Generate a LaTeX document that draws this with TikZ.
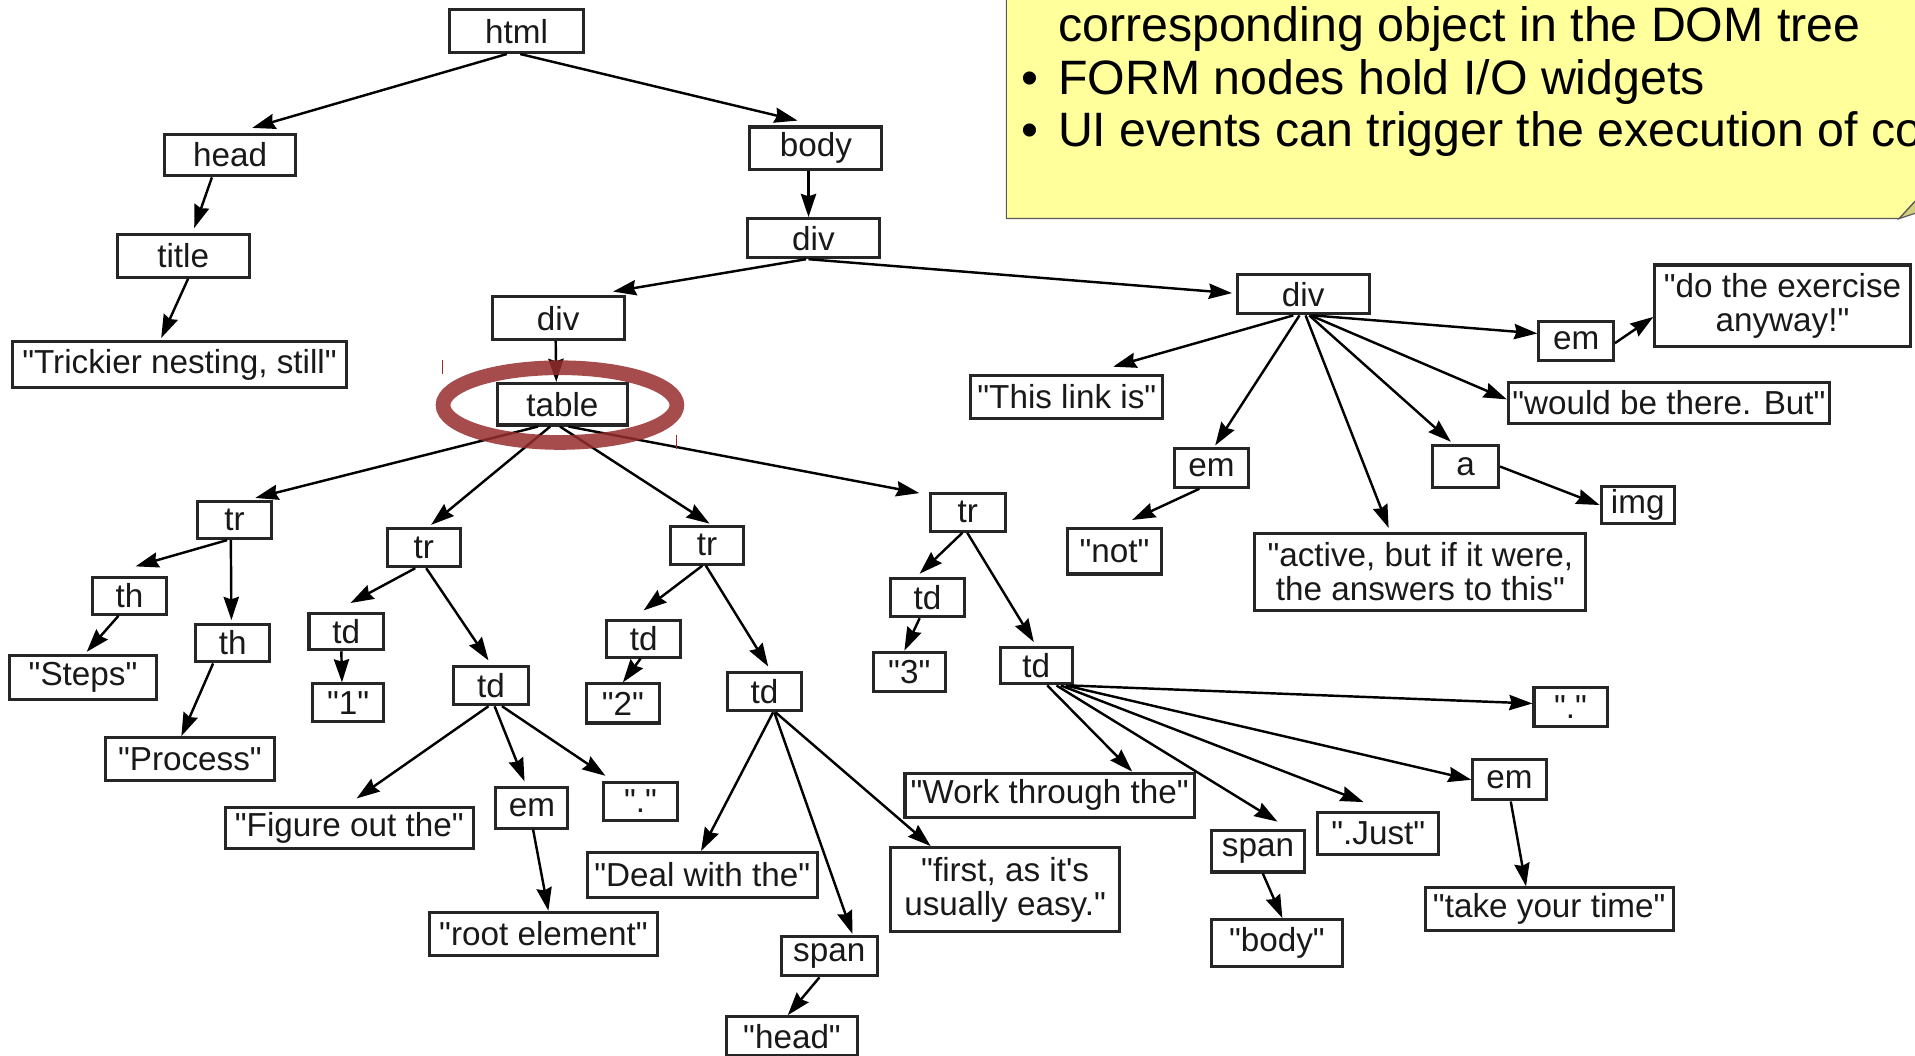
\documentclass[tikz,border=0pt]{standalone}
\usepackage{fontspec}
\setmainfont{Liberation Sans}[Ligatures=TeXOff]
\usetikzlibrary{arrows.meta,calc}
\newlength\pu
\setlength\pu{0.02cm}
\definecolor{notefill}{RGB}{255,255,155}
\definecolor{foldfill}{RGB}{212,205,128}
\definecolor{ringred}{RGB}{150,45,45}
\tikzset{
  tag/.style={draw=black!85, line width=0.05cm, fill=white, inner sep=0pt,
    minimum height=32\pu, align=center, text=black!90,
    font=\fontsize{15.5pt}{16pt}\selectfont},
  edge/.style={line width=0.04cm, black,
    -{Stealth[length=0.38cm,width=0.25cm,inset=0.04cm]}},
  notetext/.style={anchor=base west, inner sep=0pt,
    font=\fontsize{22.5pt}{26pt}\selectfont},
  ring/.style={draw=ringred, line width=12\pu, opacity=0.85},
  tick/.style={draw=ringred, line width=0.02cm},
}
\begin{document}
\begin{tikzpicture}[x=0.02cm, y=-0.02cm]
\useasboundingbox (0,0) rectangle (1568,864);
\clip (0,0) rectangle (1568,864);

% ---- yellow note with folded corner ----
\fill[notefill] (824,-20) -- (824,179) -- (1555,179) -- (1585,146.5) -- (1600,146.5) -- (1600,-20) -- cycle;
\draw[black!65, line width=0.02cm] (824,-20) -- (824,179) -- (1555,179) -- (1585,146.5);
\filldraw[fill=foldfill, draw=black!65, line width=0.02cm] (1555,179) -- (1585,146.5) -- (1585,169) -- cycle;
\node[notetext] (n1) at (866,34) {corresponding object in the DOM tree};
\node[notetext] (b2) at (836,77) {•};
\node[notetext] (n2) at (866,77) {FORM nodes hold I/O widgets};
\node[notetext] (b3) at (836,120) {•};
\node[notetext] (n3) at (866,120) {UI events can trigger the execution of co};

% ---- tree nodes ----
\node[tag, minimum width=110\pu, minimum height=35\pu] (html) at (423,25.5) {html};
\node[tag, minimum width=107\pu, minimum height=34\pu] (head) at (188.5,127) {head};
\node[tag, minimum width=108\pu, minimum height=35\pu] (body) at (668,121.5) {body};
\node[tag, minimum width=108\pu, minimum height=35\pu] (title) at (150,209.5) {title};
\node[tag, minimum width=108\pu] (div1) at (666,195) {div};
\node[tag, minimum width=274\pu, minimum height=37\pu] (trickier) at (147,298.5) {"Trickier nesting, still"};
\node[tag, minimum width=108\pu, minimum height=35\pu] (divL) at (457,260.5) {div};
\node[tag, minimum width=108\pu] (divR) at (1067,241) {div};
\node[tag, minimum width=107\pu, minimum height=34\pu] (table) at (460.5,331) {table};

\node[tag, minimum width=60\pu, minimum height=30\pu] (tr1) at (192,426) {tr};
\node[tag, minimum width=60\pu, minimum height=31\pu] (tr2) at (347,448.5) {tr};
\node[tag, minimum width=60\pu, minimum height=31\pu] (tr3) at (579,446.5) {tr};
\node[tag, minimum width=61\pu, minimum height=31\pu] (tr4) at (792.5,419.5) {tr};

\node[tag, minimum width=60\pu, minimum height=30\pu] (th1) at (106,488) {th};
\node[tag, minimum width=61\pu, minimum height=31\pu] (th2) at (190.5,526.5) {th};
\node[tag, minimum width=120\pu, minimum height=36\pu] (steps) at (68,555) {"Steps"};
\node[tag, minimum width=139\pu, minimum height=35\pu] (process) at (155.5,621.5) {"Process"};

\node[tag, minimum width=61\pu, minimum height=30\pu] (td2a) at (283.5,517) {td};
\node[tag, minimum width=58\pu, minimum height=31\pu] (one) at (285,575.5) {"1"};
\node[tag, minimum width=62\pu, minimum height=31\pu] (td2b) at (402,561.5) {td};
\node[tag, minimum width=203\pu, minimum height=34\pu] (figure) at (286,678) {"Figure out the"};
\node[tag, minimum width=59\pu, minimum height=33\pu] (em1) at (435.5,661.5) {em};
\node[tag, minimum width=61\pu, minimum height=31\pu] (dot1) at (524.5,656) {"."};
\node[tag, minimum width=186\pu, minimum height=35\pu] (root) at (445,764.5) {"root element"};

\node[tag, minimum width=61\pu, minimum height=30\pu] (td3a) at (527,523) {td};
\node[tag, minimum width=60\pu, minimum height=32\pu] (two) at (510,576) {"2"};
\node[tag, minimum width=60\pu, minimum height=31\pu] (td3b) at (626,566.5) {td};
\node[tag, minimum width=188\pu, minimum height=37\pu] (deal) at (575,716.5) {"Deal with the"};
\node[tag, minimum width=79\pu] (span1) at (679,783) {span};
\node[tag, minimum width=107\pu] (head2) at (648.5,848.5) {"head"};
\node[tag, minimum width=188\pu, minimum height=69\pu] (first) at (823,728.5) {"first, as it's\\usually easy."};

\node[tag, minimum width=61\pu, minimum height=31\pu] (td4a) at (759.5,489.5) {td};
\node[tag, minimum width=59\pu] (three) at (744.5,550) {"3"};
\node[tag, minimum width=59\pu, minimum height=30\pu] (td4b) at (848.5,545) {td};
\node[tag, minimum width=60\pu] (dot2) at (1286,579) {"."};
\node[tag, minimum width=237\pu, minimum height=36\pu] (work) at (859.5,651) {"Work through the"};
\node[tag, minimum width=76\pu, minimum height=34\pu] (span2) at (1030,697) {span};
\node[tag, minimum width=99\pu, minimum height=35\pu] (just) at (1128.5,682.5) {".Just"};
\node[tag, minimum width=60\pu, minimum height=33\pu] (em2) at (1236,638.5) {em};
\node[tag, minimum width=107\pu, minimum height=38\pu] (body2) at (1045.5,772) {"body"};
\node[tag, minimum width=203\pu, minimum height=35\pu] (take) at (1268.5,744.5) {"take your time"};

\node[tag, minimum width=157\pu, minimum height=35\pu] (thislink) at (873.5,325) {"This link is"};
\node[tag, minimum width=60\pu] (em3) at (992,383) {em};
\node[tag, minimum width=77\pu, minimum height=37\pu] (notn) at (912.5,451.5) {"not"};
\node[tag, minimum width=271\pu, minimum height=63\pu] (active) at (1163,468) {"active, but if it were,\\the answers to this"};
\node[tag, minimum width=54\pu, minimum height=34\pu] (anode) at (1200,382) {a};
\node[tag, minimum width=60\pu, minimum height=31\pu] (img) at (1341,413.5) {img};
\node[tag, minimum width=263\pu, minimum height=34\pu] (would) at (1366.5,330) {"would be there. But"};
\node[tag, minimum width=61\pu] (em4) at (1290.5,279) {em};
\node[tag, minimum width=209\pu, minimum height=67\pu] (doex) at (1459.5,250.5) {"do the exercise\\anyway!"};

% ---- connectors ----
\draw[edge] ($(html.south)+(-8,0)$) -- ($(head.north)+(18,-4)$);
\draw[edge] ($(html.south)+(3,0)$) -- ($(body.north)+(-15,-4)$);
\draw[edge] ($(head.south)+(-15,0)$) -- ($(title.north)+(9,-4)$);
\draw[edge] ($(title.south)+(4,0)$) -- ($(trickier.north)+(-15,-2)$);
\draw[edge] ($(body.south)+(-6,0)$) -- ($(div1.north)+(-4,0)$);
\draw[edge] ($(div1.south)+(-6,0)$) -- ($(divL.north)+(45,-3)$);
\draw[edge] ($(div1.south)+(-4,0)$) -- ($(divR.west)+(-3,-1)$);
\draw[edge] ($(divL.south)+(-2,0)$) -- ($(table.north)+(-5,0)$);

\draw[edge] ($(table.south)+(-20,0)$) -- ($(tr1.north)+(17,-2)$);
\draw[edge] ($(table.south)+(-10,0)$) -- ($(tr2.north)+(6,-2)$);
\draw[edge] ($(table.south)+(-2,0)$) -- ($(tr3.north)+(2,-1)$);
\draw[edge] ($(table.south)+(5,0)$) -- ($(tr4.north west)+(-8,1)$);

\draw[edge] ($(tr1.south)+(-6,0)$) -- ($(th1.north)+(5,-8)$);
\draw[edge] ($(tr1.south)+(-3,0)$) -- ($(th2.north)+(-1,-2)$);
\draw[edge] ($(th1.south)+(-9,0)$) -- ($(steps.north)+(3,-2)$);
\draw[edge] ($(th2.south)+(-16,0)$) -- ($(process.north)+(-7,0)$);

\draw[edge] ($(tr2.south)+(-7,0)$) -- ($(td2a.north)+(3.5,-7)$);
\draw[edge] ($(tr2.south)+(2,0)$) -- ($(td2b.north)+(-2,-4)$);
\draw[edge] ($(td2a.south)+(-4,0)$) -- ($(one.north)+(-5,0)$);
\draw[edge] ($(td2b.south)+(-2,0)$) -- ($(figure.north)+(6,-6)$);
\draw[edge] ($(td2b.south)+(3,0)$) -- ($(em1.north)+(-6,-4)$);
\draw[edge] ($(td2b.south)+(9,0)$) -- ($(dot1.north west)+(3,-4)$);
\draw[edge] ($(em1.south)+(1,0)$) -- ($(root.north)+(4,0)$);

\draw[edge] ($(tr3.south)+(-4,0)$) -- ($(td3a.north)+(0,-7)$);
\draw[edge] ($(tr3.south)+(-1,0)$) -- ($(td3b.north)+(3,-4)$);
\draw[edge] ($(td3a.south)+(-2.5,0)$) -- (two.north);
\draw[edge] ($(td3b.south)+(7,0)$) -- ($(deal.north)+(-1,0)$);
\draw[edge] ($(td3b.south)+(8,0)$) -- ($(span1.north)+(19,-1)$);
\draw[edge] ($(td3b.south)+(9,0)$) -- ($(first.north)+(-61,0)$);
\draw[edge] ($(span1.south)+(-8,0)$) -- ($(head2.north)+(-3.5,0)$);

\draw[edge] ($(tr4.south)+(-4.5,0)$) -- ($(td4a.north)+(-6.5,-3)$);
\draw[edge] ($(tr4.south)+(-0.5,0)$) -- ($(td4b.north)+(-2,-3)$);
\draw[edge] ($(td4a.south)+(-6.5,0)$) -- ($(three.north)+(-4,0)$);
\draw[edge] ($(td4b.south)+(9,0)$) -- ($(work.north)+(67.5,0)$);
\draw[edge] ($(td4b.south)+(16.5,0)$) -- ($(span2.north)+(16,-6)$);
\draw[edge] ($(td4b.south)+(20,0)$) -- ($(just.north)+(-12,-7)$);
\draw[edge] ($(td4b.south)+(24,0)$) -- (em2.west);
\draw[edge] ($(td4b.south)+(27.5,0)$) -- ($(dot2.west)+(0,-3)$);
\draw[edge] ($(span2.south)+(4,0)$) -- ($(body2.north)+(4.5,0)$);
\draw[edge] ($(em2.south)+(1,0)$) -- ($(take.north)+(-19,0)$);

\draw[edge] ($(divR.south)+(-8,0)$) -- ($(thislink.north)+(38,-6)$);
\draw[edge] ($(divR.south)+(-3,0)$) -- ($(em3.north)+(3,-1)$);
\draw[edge] ($(divR.south)+(2,0)$) -- ($(active.north)+(-26,-3)$);
\draw[edge] ($(divR.south)+(5,0)$) -- ($(anode.north)+(-12,-2)$);
\draw[edge] ($(divR.south)+(6,0)$) -- ($(would.west)+(0,-3)$);
\draw[edge] ($(divR.south)+(8,0)$) -- ($(em4.west)+(0,-6)$);
\draw[edge] ($(em4.east)+(0,2)$) -- ($(doex.west)+(0,9)$);
\draw[edge] ($(em3.south)+(-10,0)$) -- ($(notn.north)+(14.5,-6)$);
\draw[edge] (anode.east) -- (img.west);

% ---- highlight ring round the table node ----
\draw[ring] ($(table.center)+(-2,0.7)$) ellipse [x radius=95.75\pu, y radius=30.6\pu];
\draw[tick] ($(table.center)+(-98,-36)$) -- ++(0,11);
\draw[tick] ($(table.center)+(93.5,25)$) -- ++(0,12);
\end{tikzpicture}
\end{document}
